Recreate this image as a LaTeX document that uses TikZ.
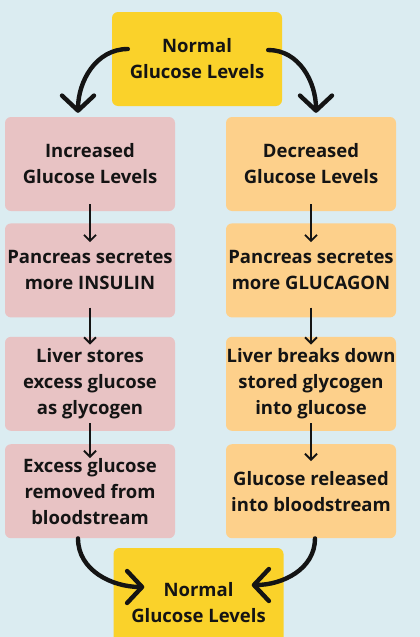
\documentclass[tikz,border=0pt]{standalone}
\usepackage{fontspec}
\setmainfont{Open Sans}
\usepackage{tikz}
\usetikzlibrary{positioning,arrows.meta}

\definecolor{bgblue}{HTML}{DBECF1}
\definecolor{normyellow}{HTML}{FAD22A}
\definecolor{incpink}{HTML}{E8C3C4}
\definecolor{decorange}{HTML}{FDD08B}
\definecolor{inkblack}{HTML}{141414}

\begin{document}
\begin{tikzpicture}[
    x=1pt,y=-1pt,
    box/.style={rectangle,rounded corners=6pt,minimum width=170pt,minimum height=94pt,align=center,
        font=\fontsize{18.5}{26}\selectfont\bfseries,text=inkblack,inner sep=0pt},
    arrow/.style={-{Straight Barb[length=6pt,width=12pt]},line width=1.9pt,inkblack},
    bigarrow/.style={-{Straight Barb[length=15pt,width=32pt,line cap=round,line join=round]},line width=4.4pt,line cap=round,inkblack}
]
    \fill[bgblue] (0,0) rectangle (420,637);
    \useasboundingbox (0,0) rectangle (420,637);

    % Normal levels
    \node[box,fill=normyellow] (top) at (197,59) {Normal\\Glucose Levels};
    \node[box,fill=normyellow,minimum height=110pt] (bot) at (198.5,603) {Normal\\Glucose Levels};

    % Left column: high glucose
    \node[box,fill=incpink] (inc) at (90,164) {Increased\\Glucose Levels};
    \node[box,fill=incpink,below=12pt of inc] (ins) {Pancreas secretes\\more INSULIN};
    \node[box,fill=incpink,below=19pt of ins] (store) {Liver stores\\excess glucose\\as glycogen};
    \node[box,fill=incpink,below=13pt of store] (removed) {Excess glucose\\removed from\\bloodstream};

    % Right column: low glucose
    \node[box,fill=decorange] (dec) at (311,164) {Decreased\\Glucose Levels};
    \node[box,fill=decorange,below=12pt of dec] (glu) {Pancreas secretes\\more GLUCAGON};
    \node[box,fill=decorange,below=19pt of glu] (breaks) {Liver breaks down\\stored glycogen\\into glucose};
    \node[box,fill=decorange,below=13pt of breaks] (released) {Glucose released\\into bloodstream};

    % Arrows
    \draw[arrow,shorten <=-7pt,shorten >=-19pt] (inc) -- (ins);
    \draw[arrow,shorten <=-10pt,shorten >=-8pt] (ins) -- (store);
    \draw[arrow,shorten <=-8pt,shorten >=-14pt] (store) -- (removed);
    \draw[arrow,shorten <=-7pt,shorten >=-19pt] (dec) -- (glu);
    \draw[arrow,shorten <=-10pt,shorten >=-8pt] (glu) -- (breaks);
    \draw[arrow,shorten <=-8pt,shorten >=-17pt] (breaks) -- (released);

    % Curved arrows
    \draw[bigarrow] ([xshift=16pt,yshift=10pt]top.west) to[out=180,in=90] ([xshift=-12pt,yshift=4pt]inc.north);
    \draw[bigarrow] ([xshift=-14pt,yshift=9pt]top.east) to[out=0,in=90] ([xshift=5pt,yshift=4pt]dec.north);
    \draw[bigarrow] ([xshift=-12pt]removed.south) to[out=-90,in=180] ([xshift=31pt,yshift=16pt]bot.west);
    \draw[bigarrow] ([xshift=4pt]released.south) to[out=-90,in=0] ([xshift=-32pt,yshift=18pt]bot.east);
\end{tikzpicture}
\end{document}
